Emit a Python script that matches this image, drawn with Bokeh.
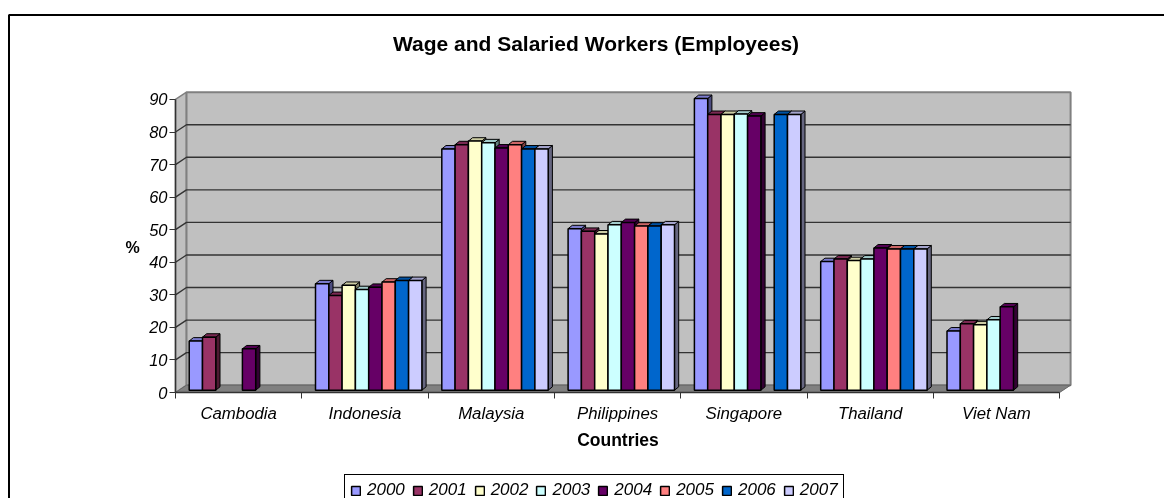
from bokeh.plotting import figure
from bokeh.embed import file_html
from bokeh.resources import INLINE
from bokeh.models import (LinearAxis, FixedTicker, Range1d, Label, Legend, LegendItem)

countries = ["Cambodia", "Indonesia", "Malaysia", "Philippines", "Singapore", "Thailand", "Viet Nam"]
years = ["2000", "2001", "2002", "2003", "2004", "2005", "2006", "2007"]
nan = float("nan")
v2000 = [15.1, 32.7, 74.1, 49.6, 89.6, 39.5, 18.2]
v2001 = [16.3, 29.1, 75.4, 48.8, 84.7, 40.3, 20.4]
v2002 = [nan, 32.2, 76.5, 48.0, 84.7, 39.8, 20.1]
v2003 = [nan, 30.9, 76.0, 50.8, 84.8, 40.3, 21.6]
v2004 = [12.7, 31.6, 74.4, 51.5, 84.2, 43.7, 25.6]
v2005 = [nan, 33.2, 75.4, 50.4, nan, 43.4, nan]
v2006 = [nan, 33.7, 74.1, 50.4, 84.7, 43.4, nan]
v2007 = [nan, 33.7, 74.1, 50.8, 84.7, 43.4, nan]
series = [v2000, v2001, v2002, v2003, v2004, v2005, v2006, v2007]
colors = ["#9999FF", "#993366", "#FFFFCC", "#CCFFFF", "#660066", "#FF8080", "#0066CC", "#CCCCFF"]
tops = ["#7A7ACC", "#7A2952", "#CCCCA3", "#A3CCCC", "#520052", "#CC6666", "#0052A3", "#A3A3CC"]
sides = ["#4D4D80", "#4D1A33", "#808066", "#668080", "#330033", "#804040", "#003366", "#666680"]
yticks = [0, 10, 20, 30, 40, 50, 60, 70, 80, 90]

# pixel geometry of the page picture
W, H = 1164, 498
X0, CAT = 175.0, 126.3
Y0, UNIT = 392.0, 3.256
def dx(px): return (px - X0) / CAT
def dy(py): return (Y0 - py) / UNIT

DX, DY = 11 / CAT, 7.3 / UNIT          # floor depth
BX, BY = 3.6 / CAT, 2.3 / UNIT         # bar inset from the front edge
FX, FY = 4.2 / CAT, 3.4 / UNIT         # depth of each bar
GAP, BW = 10.1 / CAT, 13.3 / CAT

p = figure(width=W, height=H, output_backend="svg", toolbar_location=None,
           x_range=Range1d(dx(0), dx(W)), y_range=Range1d(dy(H), dy(0)),
           min_border=0, min_border_left=0, min_border_right=0, min_border_top=0, min_border_bottom=0,
           x_axis_type=None, y_axis_type=None, outline_line_color=None,
           styles={"position": "fixed", "left": "0px", "top": "0px"})
p.grid.visible = False

# outer chart border
p.line([dx(8.5), dx(8.5), dx(1164)], [dy(498), dy(14.5), dy(14.5)], line_color="#000000", line_width=2)

# walls and floor
p.patch([0, DX, DX, 0], [0, DY, 90 + DY, 90], fill_color="#C0C0C0", line_color="#808080", line_width=1.5)
p.patch([DX, 7 + DX, 7 + DX, DX], [DY, DY, 90 + DY, 90 + DY], fill_color="#C0C0C0", line_color="#808080", line_width=2)
p.patch([0, 7, 7 + DX, DX], [0, 0, DY, DY], fill_color="#808080", line_color="#666666", line_width=1)
for t in yticks[1:-1]:
    p.line([0, DX, 7 + DX], [t, t + DY, t + DY], line_color="#333333", line_width=1.4)

# bars
items = []
for s, vals in enumerate(series):
    left, right, bottom, top = [], [], [], []
    sx, sy, tx, ty = [], [], [], []
    for c, v in enumerate(vals):
        if v != v:
            continue
        l = c + GAP + BX + s * BW
        r = l + BW
        b = BY
        h = v + BY
        left.append(l); right.append(r); bottom.append(b); top.append(h)
        sx.append([r, r + FX, r + FX, r]); sy.append([b, b + FY, h + FY, h])
        tx.append([l, l + FX, r + FX, r]); ty.append([h, h + FY, h + FY, h])
    p.patches(sx, sy, fill_color=sides[s], line_color="#000000", line_width=1)
    p.patches(tx, ty, fill_color=tops[s], line_color="#000000", line_width=1)
    q = p.quad(left=left, right=right, bottom=bottom, top=top,
               fill_color=colors[s], line_color="#000000", line_width=1.5)
    items.append(LegendItem(label=years[s], renderers=[q]))

# axes
yax = LinearAxis(fixed_location=0, ticker=FixedTicker(ticks=yticks), bounds=(0, 90))
yax.axis_line_color = "#333333"; yax.axis_line_width = 1.5
yax.major_tick_line_color = "#333333"; yax.major_tick_out = 6; yax.major_tick_in = 0
yax.minor_tick_line_color = None
yax.major_label_text_font = "Liberation Sans"; yax.major_label_text_font_style = "italic"
yax.major_label_text_font_size = "16.5px"; yax.major_label_text_color = "#000000"
yax.major_label_standoff = 2
p.add_layout(yax, "left")

xax = LinearAxis(fixed_location=0, bounds=(0, 7),
                 ticker=FixedTicker(ticks=[i + 0.5 for i in range(7)], minor_ticks=list(range(8))),
                 major_label_overrides={i + 0.5: c for i, c in enumerate(countries)})
xax.axis_line_color = "#333333"; xax.axis_line_width = 1.5
xax.major_tick_line_color = None; xax.major_tick_out = 0; xax.major_tick_in = 0
xax.minor_tick_line_color = "#333333"; xax.minor_tick_out = 6; xax.minor_tick_in = 0
xax.major_label_text_font = "Liberation Sans"; xax.major_label_text_font_style = "italic"
xax.major_label_text_font_size = "16.8px"; xax.major_label_text_color = "#000000"
xax.major_label_standoff = 5
p.add_layout(xax, "below")

# texts
def lab(t, px, py, size):
    p.add_layout(Label(x=dx(px), y=dy(py), text=t, text_font="Liberation Sans", text_font_style="bold",
                       text_font_size=size, text_align="center", text_baseline="middle",
                       text_color="#000000"))
lab("Wage and Salaried Workers (Employees)", 595.5, 43, "21px")
lab("%", 132, 247, "16px")
lab("Countries", 617.5, 439, "17.5px")

# legend
leg = Legend(items=items, orientation="horizontal", location=(344, -8), margin=0, padding=5,
             spacing=7, label_standoff=6, glyph_width=11, glyph_height=11,
             label_text_font="Liberation Sans", label_text_font_style="italic",
             label_text_font_size="17px", label_text_color="#000000", label_height=14,
             border_line_color="#000000", border_line_alpha=1, border_line_width=1.5,
             background_fill_color="#FFFFFF", background_fill_alpha=1)
p.add_layout(leg, "center")

open("out.html", "w").write(file_html(p, INLINE))
